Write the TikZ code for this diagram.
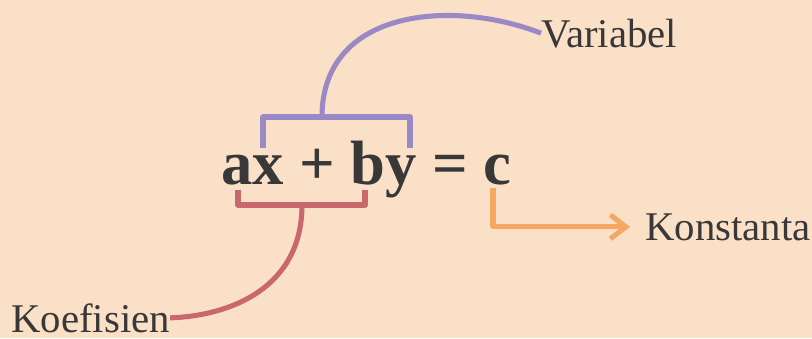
\documentclass[tikz,border=0pt]{standalone}
\usepackage{fontspec}
\setmainfont{Liberation Serif}
\usetikzlibrary{arrows.meta}
\definecolor{peach}{HTML}{FBE0C8}
\definecolor{lavender}{HTML}{9B89C6}
\definecolor{rose}{HTML}{C9686C}
\definecolor{apricot}{HTML}{F5A862}
\definecolor{ink}{HTML}{383838}

\begin{document}
\begin{tikzpicture}[x=0.025cm, y=-0.025cm,
    lbl/.style={anchor=base west, inner sep=0pt, text=ink, font=\fontsize{29}{34}\selectfont},
    brace/.style={line width=3.6pt, line join=round}]
    % background
    \fill[peach] (0,0) rectangle (812,338);
    \useasboundingbox (0,0) rectangle (812,338);

    % the equation
    \node[anchor=base west, inner sep=0pt, text=ink, font=\fontsize{44.5}{50}\selectfont\bfseries] (eq) at (221,184) {ax + by = c};

    % labels
    \node[lbl] (var) at (541,47) {Variabel};
    \node[lbl] (koef) at (11,332) {Koefisien};
    \node[lbl] (konst) at (645,240) {Konstanta};

    % variabel bracket (above)
    \coordinate (vtop) at (322,117);
    \draw[brace, lavender] (263,148) -- (263,117) -- (410,117) -- (410,148);
    \draw[brace, lavender] (vtop) .. controls (322,10) and (450,-2) .. (var.west);

    % koefisien bracket (below)
    \coordinate (kbot) at (302,205);
    \draw[brace, rose] (238,190) -- (238,205) -- (365,205) -- (365,190);
    \draw[brace, rose] (kbot) .. controls (302,288) and (230,316) .. (koef.east);

    % konstanta arrow
    \coordinate (cbot) at (493,188);
    \draw[brace, apricot, -{Straight Barb[length=11pt,width=17pt]}] (cbot) |- ([xshift=-0.375cm]konst.west);
\end{tikzpicture}
\end{document}
